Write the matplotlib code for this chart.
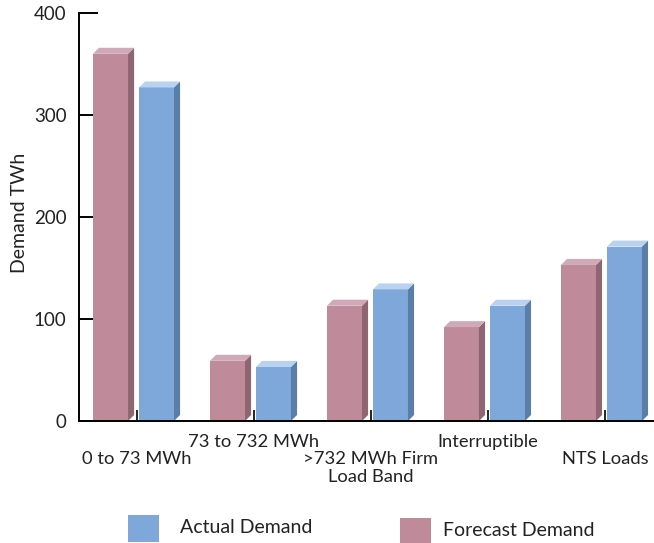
import matplotlib.pyplot as plt
from matplotlib.patches import Polygon, Rectangle
from matplotlib.transforms import blended_transform_factory

plt.rcParams['font.family'] = ['Lato', 'DejaVu Sans']

categories = ['0 to 73 MWh', '73 to 732 MWh', '>732 MWh Firm\nLoad Band',
              'Interruptible', 'NTS Loads']
forecast = [360, 59, 113, 92, 153]
actual = [327, 53, 129, 113, 171]
yticks = [0, 100, 200, 300, 400]

# front, side, top shades for each series
forecast_cols = ('#bf8a9a', '#8e6672', '#cfa9b8')
actual_cols = ('#7ea8da', '#5b7ea8', '#b9d2f0')
text_col = '#222222'

W, H = 654, 543
fig = plt.figure(figsize=(W / 100, H / 100), dpi=100)
ax = fig.add_axes([79 / W, 122 / H, 575 / W, 408 / H])
ax.set_xlim(-0.496, 4.419)
ax.set_ylim(0, 400)

width = 0.299
dx, dy = 0.052, 5.9


def bar3d(x0, h, cols):
    front, side, top = cols
    x1 = x0 + width
    ax.add_patch(Rectangle((x0, 0), width, h, facecolor=front,
                           edgecolor='none', clip_on=False, zorder=3))
    ax.add_patch(Polygon([(x1, 0), (x1 + dx, dy), (x1 + dx, h + dy), (x1, h)],
                         closed=True, facecolor=side, edgecolor='none',
                         clip_on=False, zorder=3))
    ax.add_patch(Polygon([(x0, h), (x1, h), (x1 + dx, h + dy), (x0 + dx, h + dy)],
                         closed=True, facecolor=top, edgecolor='none',
                         clip_on=False, zorder=3))


for i, (f, a) in enumerate(zip(forecast, actual)):
    bar3d(i - 0.376, f, forecast_cols)
    bar3d(i + 0.017, a, actual_cols)

for s in ['top', 'right']:
    ax.spines[s].set_visible(False)
for s in ['left', 'bottom']:
    ax.spines[s].set_linewidth(1.4)
    ax.spines[s].set_color('black')
    ax.spines[s].set_zorder(4)

ax.set_yticks(yticks)
ax.set_yticklabels([str(v) for v in yticks], fontsize=13.5, color=text_col)
ax.tick_params(axis='y', direction='in', length=14, width=1.4, pad=9)
ax.set_xticks(range(len(categories)))
ax.set_xticklabels([])
ax.tick_params(axis='x', direction='in', length=8, width=1.2)

fig.text(20 / W, 1 - 213 / H, 'Demand TWh', rotation=90, fontsize=14,
         color=text_col, ha='center', va='center')

# staggered category labels under the axis (baselines in pixels from top)
baselines = [464, 447, 464, 447, 464]
trans = blended_transform_factory(ax.transData, fig.transFigure)
for i, (name, b) in enumerate(zip(categories, baselines)):
    for k, line in enumerate(name.split('\n')):
        ax.text(i, 1 - (b + 18 * k) / H, line, transform=trans, ha='center',
                va='baseline', fontsize=13.2, color=text_col)

# legend swatches
fig.patches.append(Rectangle((128 / W, 1 - 542 / H), 31 / W, 27 / H,
                             transform=fig.transFigure, facecolor=actual_cols[0],
                             edgecolor='none'))
fig.text(180 / W, 1 - 533 / H, 'Actual Demand', fontsize=14,
         color=text_col, va='baseline')
fig.patches.append(Rectangle((400 / W, 1 - 543 / H), 31 / W, 25 / H,
                             transform=fig.transFigure, facecolor=forecast_cols[0],
                             edgecolor='none'))
fig.text(443 / W, 1 - 536 / H, 'Forecast Demand', fontsize=14,
         color=text_col, va='baseline')

fig.savefig('out.png', dpi=100)
